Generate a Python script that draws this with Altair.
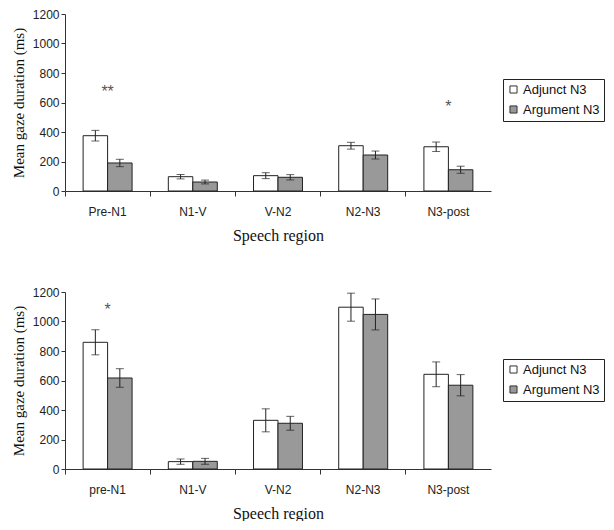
import altair as alt
import pandas as pd

regions_top = ["Pre-N1", "N1-V", "V-N2", "N2-N3", "N3-post"]
regions_bottom = ["pre-N1", "N1-V", "V-N2", "N2-N3", "N3-post"]
conditions = ["Adjunct N3", "Argument N3"]

top_adj = [375, 97, 104, 307, 300]
top_adj_err = [36, 15, 20, 23, 32]
top_arg = [190, 61, 93, 244, 144]
top_arg_err = [25, 13, 18, 27, 24]

bot_adj = [859, 50, 330, 1097, 642]
bot_adj_err = [85, 18, 78, 95, 84]
bot_arg = [617, 52, 310, 1048, 568]
bot_arg_err = [63, 20, 47, 105, 72]

top_star_regions = ["Pre-N1", "N3-post"]
top_star_values = [671, 571]
top_star_texts = ["**", "*"]

bot_star_regions = ["pre-N1"]
bot_star_values = [1075]
bot_star_texts = ["*"]

y_ticks = [0, 200, 400, 600, 800, 1000, 1200]

COLORS = ["#ffffff", "#999999"]
SERIF = "Liberation Serif"
SANS = "Liberation Sans"


def make_panel(regions, adj, adj_err, arg, arg_err, s_reg, s_val, s_txt, legend_y):
    rows = []
    for i, r in enumerate(regions):
        rows.append(dict(region=r, cond=conditions[0], value=adj[i],
                         lo=adj[i] - adj_err[i], hi=adj[i] + adj_err[i]))
        rows.append(dict(region=r, cond=conditions[1], value=arg[i],
                         lo=arg[i] - arg_err[i], hi=arg[i] + arg_err[i]))
    df = pd.DataFrame(rows)
    stars = pd.DataFrame(dict(region=s_reg, value=s_val, text=s_txt))

    xaxis = alt.Axis(title="Speech region", labelAngle=0, bandPosition=0,
                     labelFont=SANS, labelFontSize=12, labelColor="#222",
                     titleFont=SERIF, titleFontSize=16, titleFontWeight="normal",
                     titleColor="#111", titlePadding=10, labelPadding=10,
                     tickSize=5, tickColor="#333", domainColor="#333")
    xscale = alt.Scale(paddingInner=0, paddingOuter=0)
    x = alt.X("region:N", sort=regions, scale=xscale, axis=xaxis)
    xo = alt.XOffset("cond:N", sort=conditions,
                     scale=alt.Scale(paddingInner=0, paddingOuter=0.74))
    yscale = alt.Scale(domain=[0, 1200], nice=False)
    yaxis = alt.Axis(title="Mean gaze duration (ms)", values=y_ticks, format="d",
                     labelOverlap=False, grid=False, labelFont=SANS,
                     labelFontSize=12, labelColor="#222",
                     titleFont=SERIF, titleFontSize=15, titleFontWeight="normal",
                     titleColor="#111", titlePadding=6, tickSize=4,
                     tickColor="#333", domainColor="#333")
    color = alt.Color("cond:N", sort=conditions,
                      scale=alt.Scale(domain=conditions, range=COLORS),
                      legend=alt.Legend(title=None, orient="none", legendX=438,
                                        legendY=legend_y, symbolType="square",
                                        symbolSize=50, symbolStrokeColor="#333",
                                        symbolStrokeWidth=1, labelFont=SANS,
                                        labelFontSize=13, labelColor="#111",
                                        strokeColor="#222", padding=4,
                                        rowPadding=6, labelOffset=3))

    bars = alt.Chart(df).mark_bar(stroke="#222", strokeWidth=1).encode(
        x=x, xOffset=xo, y=alt.Y("value:Q", scale=yscale, axis=yaxis), color=color)
    rule = alt.Chart(df).mark_rule(color="#222", strokeWidth=1).encode(
        x=x, xOffset=xo, y=alt.Y("lo:Q", scale=yscale, axis=yaxis), y2="hi:Q")
    cap_lo = alt.Chart(df).mark_tick(color="#222", orient="horizontal", size=8, thickness=1).encode(
        x=x, xOffset=xo, y=alt.Y("lo:Q", scale=yscale, axis=yaxis))
    cap_hi = alt.Chart(df).mark_tick(color="#222", orient="horizontal", size=8, thickness=1).encode(
        x=x, xOffset=xo, y=alt.Y("hi:Q", scale=yscale, axis=yaxis))
    star = alt.Chart(stars).mark_text(font=SANS, fontSize=16, color="#555",
                                      baseline="middle").encode(
        x=x, y=alt.Y("value:Q", scale=yscale, axis=yaxis), text="text:N")

    return alt.layer(bars, rule, cap_lo, cap_hi, star).properties(width=426, height=177)


top = make_panel(regions_top, top_adj, top_adj_err, top_arg, top_arg_err,
                 top_star_regions, top_star_values, top_star_texts, 65)
bottom = make_panel(regions_bottom, bot_adj, bot_adj_err, bot_arg, bot_arg_err,
                    bot_star_regions, bot_star_values, bot_star_texts, 67)

chart = alt.vconcat(top, bottom, spacing=43).resolve_scale(color="independent").properties(
    padding={"left": 3, "top": 0, "right": 0, "bottom": 0}
).configure_view(stroke=None).configure_axis(domainWidth=1)

chart.save("out.html", embed_options={"renderer": "svg", "actions": False})
